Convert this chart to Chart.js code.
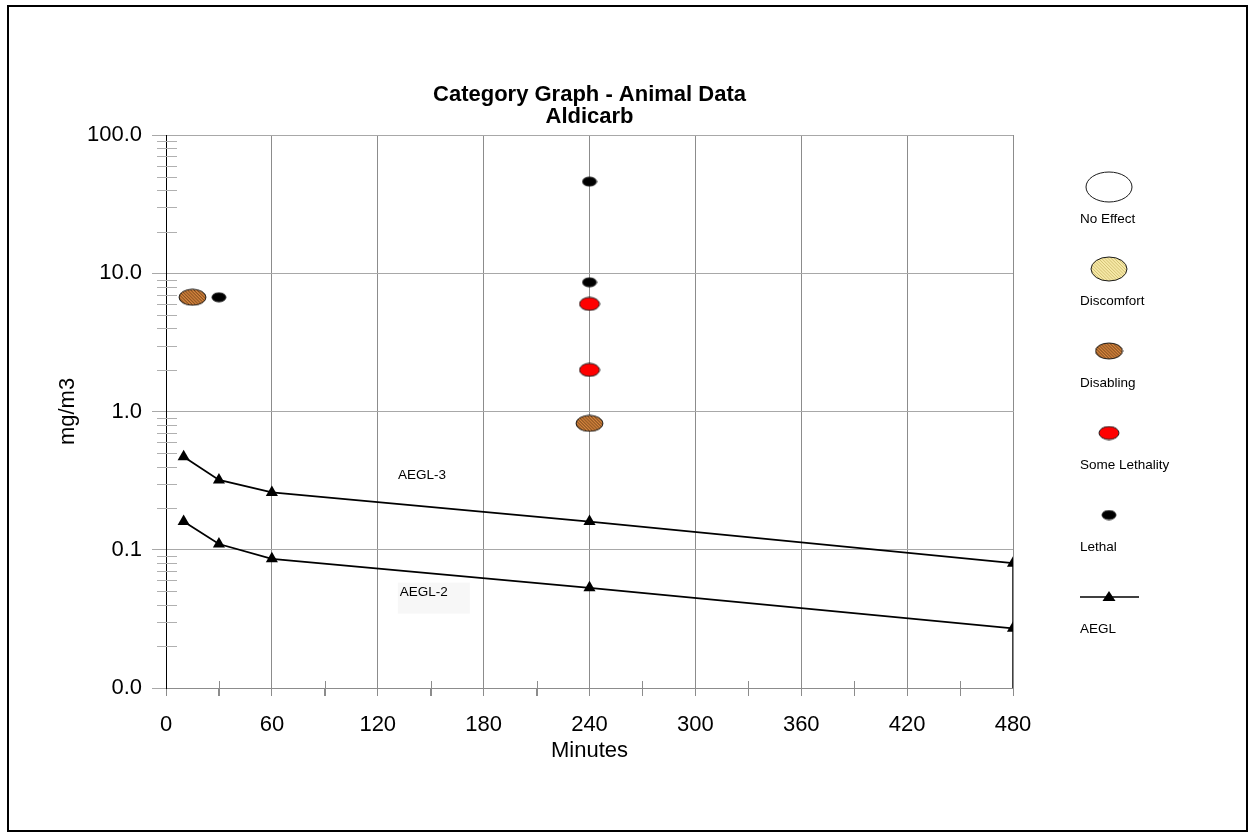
<!DOCTYPE html>
<html>
<head>
<meta charset="utf-8">
<title>Category Graph - Animal Data - Aldicarb</title>
<script src="https://cdn.jsdelivr.net/npm/chart.js@4.4.1/dist/chart.umd.min.js"></script>
<style>
  html, body { margin: 0; padding: 0; background: #fff; }
  #grafico { display: block; }
</style>
</head>
<body>
<canvas id="grafico" width="1255" height="840"></canvas>
<script>
// ─────────────────────────────────────────────
// Datos (mg/m3 vs minutos)
// ─────────────────────────────────────────────
const minutosAegl = [10, 30, 60, 240, 480];
const aegl3 = [0.47, 0.32, 0.26, 0.16, 0.080];
const aegl2 = [0.16, 0.11, 0.086, 0.053, 0.027];

const disablingMin = [15, 240];
const disablingVal = [6.7, 0.82];
const algunaLetalMin = [240, 240];
const algunaLetalVal = [6.0, 2.0];
const letalMin = [30, 240, 240];
const letalVal = [6.7, 46, 8.6];

// Ejes
const yDecadas   = [0.01, 0.1, 1, 10, 100];
const yEtiquetas = ['0.0', '0.1', '1.0', '10.0', '100.0'];
const yMenores   = [2, 3, 4, 5, 6, 7, 8, 9];
const xValores   = [0, 30, 60, 90, 120, 150, 180, 210, 240, 270, 300, 330, 360, 390, 420, 450, 480];
const xEtiquetas = ['0', '', '60', '', '120', '', '180', '', '240', '', '300', '', '360', '', '420', '', '480'];

const leyendaNombres = ['No Effect', 'Discomfort', 'Disabling', 'Some Lethality', 'Lethal', 'AEGL'];

const FUENTE = "'Liberation Sans', Arial, Helvetica, sans-serif";
const GRIS_H = '#a8a8a8';
const GRIS_V = '#8c8c8c';
const TRANSP = 'rgba(0,0,0,0)';

// todos los ticks del eje Y (décadas + menores)
const yTodos = [];
yDecadas.forEach((d, i) => {
    yTodos.push(d);
    if (i < yDecadas.length - 1) yMenores.forEach(m => yTodos.push(+(d * m).toPrecision(3)));
});

// Elipses (con o sin rayado) usadas como pointStyle
function elipse(w, h, relleno, rayado, grosor) {
    const c = document.createElement('canvas');
    c.width = Math.ceil(w) + 2;
    c.height = Math.ceil(h) + 2;
    const g = c.getContext('2d');
    const cx = c.width / 2, cy = c.height / 2;
    g.beginPath();
    g.ellipse(cx, cy, w / 2, h / 2, 0, 0, Math.PI * 2);
    g.fillStyle = relleno;
    g.fill();
    if (rayado) {
        g.save();
        g.clip();
        g.strokeStyle = rayado;
        g.lineWidth = grosor || 1;
        for (let i = -c.height; i < c.width + c.height; i += 3.2) {
            g.beginPath();
            g.moveTo(i, 0);
            g.lineTo(i + c.height, c.height);
            g.stroke();
        }
        g.restore();
    }
    g.beginPath();
    g.ellipse(cx, cy, w / 2, h / 2, 0, 0, Math.PI * 2);
    g.strokeStyle = '#1a1a1a';
    g.lineWidth = 1;
    g.stroke();
    return c;
}

const simbolos = {
    noEffect:   elipse(46, 30, '#ffffff', null),
    discomfort: elipse(36, 24, '#f6e8a6', '#c9b86a', 0.8),
    disabling:  elipse(27, 16, '#d4843e', '#5e3410', 0.9),
    algunaLet:  elipse(20, 13, '#ff0000', null),
    letal:      elipse(14, 9, '#000000', null)
};

const puntos = (xs, ys) => xs.map((x, i) => ({ x: x, y: ys[i] }));

// Plugin: marco exterior, ticks menores, etiquetas AEGL y leyenda lateral
const extras = {
    id: 'extras',
    beforeDatasetsDraw(chart) {
        const { ctx, chartArea, scales } = chart;
        ctx.save();
        ctx.strokeStyle = '#b0b0b0';
        ctx.lineWidth = 1;
        scales.y.ticks.forEach(t => {
            if (yDecadas.includes(t.value)) return;
            const py = Math.round(scales.y.getPixelForValue(t.value)) + 0.5;
            ctx.beginPath();
            ctx.moveTo(chartArea.left - 9, py);
            ctx.lineTo(chartArea.left + 11, py);
            ctx.stroke();
        });
        ctx.strokeStyle = GRIS_V;
        scales.x.ticks.forEach((t, i) => {
            if (xEtiquetas[i]) return;
            const px = Math.round(scales.x.getPixelForValue(t.value)) + 0.5;
            ctx.beginPath();
            ctx.moveTo(px, chartArea.bottom - 7);
            ctx.lineTo(px, chartArea.bottom + 8);
            ctx.stroke();
        });

        // Etiquetas de las curvas AEGL
        ctx.font = '13.5px ' + FUENTE;
        ctx.textBaseline = 'middle';
        ctx.textAlign = 'left';
        const x3 = scales.x.getPixelForValue(131.5), y3 = scales.y.getPixelForValue(0.346);
        ctx.fillStyle = '#000';
        ctx.fillText('AEGL-3', x3, y3);
        const x2 = scales.x.getPixelForValue(132.5), y2 = scales.y.getPixelForValue(0.049);
        ctx.fillStyle = '#f7f7f7';
        ctx.fillRect(x2 - 2, y2 - 10, 72, 31);
        ctx.fillStyle = '#000';
        ctx.fillText('AEGL-2', x2, y2);
        ctx.restore();
    },
    afterDraw(chart) {
        const { ctx } = chart;
        ctx.save();
        // marco exterior
        ctx.strokeStyle = '#000';
        ctx.lineWidth = 2;
        ctx.strokeRect(8, 6, 1239, 825);

        // leyenda
        const cx = 1109, y0 = 187, paso = 82;
        const lista = [simbolos.noEffect, simbolos.discomfort, simbolos.disabling, simbolos.algunaLet, simbolos.letal];
        ctx.font = '13.5px ' + FUENTE;
        ctx.textBaseline = 'middle';
        ctx.textAlign = 'left';
        ctx.fillStyle = '#000';
        leyendaNombres.forEach((nombre, i) => {
            const cy = y0 + i * paso;
            if (i < lista.length) {
                const s = lista[i];
                ctx.drawImage(s, cx - s.width / 2, cy - s.height / 2);
            } else {
                ctx.strokeStyle = '#000';
                ctx.lineWidth = 1.5;
                ctx.beginPath();
                ctx.moveTo(1080, cy);
                ctx.lineTo(1139, cy);
                ctx.stroke();
                ctx.beginPath();
                ctx.moveTo(cx, cy - 6);
                ctx.lineTo(cx + 6.5, cy + 4);
                ctx.lineTo(cx - 6.5, cy + 4);
                ctx.closePath();
                ctx.fill();
            }
            ctx.fillText(nombre, 1080, cy + 32);
        });
        ctx.restore();
    }
};

const lineaAegl = (etiqueta, valores) => ({
    label: etiqueta,
    data: puntos(minutosAegl, valores),
    showLine: true,
    borderColor: '#000',
    borderWidth: 1.8,
    pointStyle: 'triangle',
    pointRadius: 7,
    pointBackgroundColor: '#000',
    pointBorderColor: '#000',
    pointBorderWidth: 0,
    tension: 0
});

new Chart(document.getElementById('grafico').getContext('2d'), {
    type: 'scatter',
    data: {
        datasets: [
            {
                label: 'Lethal',
                data: puntos(letalMin, letalVal),
                pointStyle: simbolos.letal
            },
            {
                label: 'Some Lethality',
                data: puntos(algunaLetalMin, algunaLetalVal),
                pointStyle: simbolos.algunaLet
            },
            {
                label: 'Disabling',
                data: puntos(disablingMin, disablingVal),
                pointStyle: simbolos.disabling
            },
            lineaAegl('AEGL-3', aegl3),
            lineaAegl('AEGL-2', aegl2),
            {
                label: 'borde',
                data: [{ x: minutosAegl[minutosAegl.length - 1], y: aegl3[aegl3.length - 1] },
                       { x: minutosAegl[minutosAegl.length - 1], y: yDecadas[0] }],
                showLine: true,
                borderColor: '#000',
                borderWidth: 1.5,
                pointRadius: 0
            }
        ]
    },
    options: {
        responsive: false,
        animation: false,
        devicePixelRatio: 1,
        layout: { padding: { left: 20, right: 242, top: 0, bottom: 62 } },
        plugins: {
            legend: { display: false },
            tooltip: { enabled: false },
            title: {
                display: true,
                fullSize: false,
                text: ['Category Graph - Animal Data', 'Aldicarb'],
                color: '#000',
                font: { family: FUENTE, size: 22, weight: 'bold', lineHeight: '22px' },
                padding: { top: 84, bottom: 7 }
            }
        },
        scales: {
            x: {
                type: 'linear',
                min: 0,
                max: 480,
                afterFit: s => { s.height = 90; },
                afterBuildTicks: s => { s.ticks = xValores.map(v => ({ value: v })); },
                ticks: {
                    autoSkip: false,
                    maxRotation: 0,
                    padding: 16,
                    color: '#000',
                    font: { family: FUENTE, size: 22 },
                    callback: v => xEtiquetas[xValores.indexOf(v)]
                },
                grid: {
                    color: c => (c.tick && c.tick.value !== 0 && xEtiquetas[xValores.indexOf(c.tick.value)]) ? GRIS_V : TRANSP,
                    tickColor: GRIS_V,
                    tickLength: 8
                },
                border: { color: GRIS_V, width: 1 },
                title: {
                    display: true,
                    text: 'Minutes',
                    color: '#000',
                    font: { family: FUENTE, size: 22 },
                    padding: { top: 0, bottom: 14 }
                }
            },
            y: {
                type: 'logarithmic',
                min: yDecadas[0],
                max: yDecadas[yDecadas.length - 1],
                afterFit: s => { s.width = 146; },
                afterBuildTicks: s => { s.ticks = yTodos.map(v => ({ value: v })); },
                ticks: {
                    autoSkip: false,
                    padding: 10,
                    color: '#000',
                    font: { family: FUENTE, size: 22 },
                    callback: v => {
                        const i = yDecadas.indexOf(v);
                        return i >= 0 ? yEtiquetas[i] : '';
                    }
                },
                grid: {
                    color: c => (c.tick && yDecadas.includes(c.tick.value)) ? GRIS_H : TRANSP,
                    tickColor: c => (c.tick && yDecadas.includes(c.tick.value)) ? GRIS_H : TRANSP,
                    tickLength: 14
                },
                border: { color: '#000', width: 1 },
                title: {
                    display: true,
                    text: 'mg/m3',
                    color: '#000',
                    font: { family: FUENTE, size: 22 },
                    padding: { top: 35, bottom: 0 }
                }
            }
        }
    },
    plugins: [extras]
});
</script>
</body>
</html>
